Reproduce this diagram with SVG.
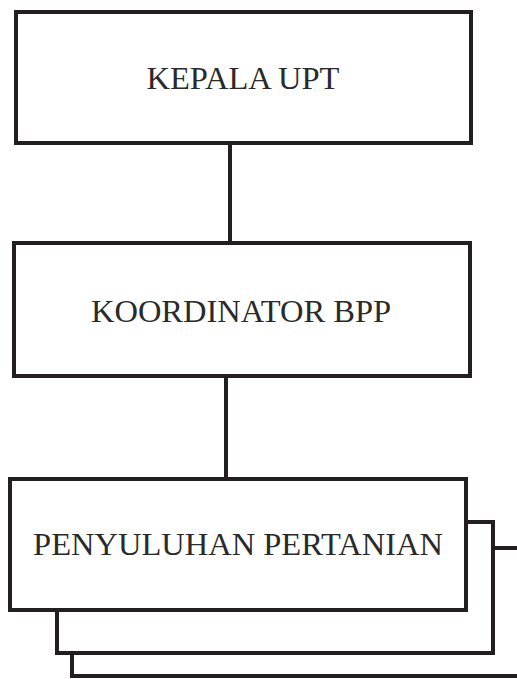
<svg xmlns="http://www.w3.org/2000/svg" width="517" height="679" viewBox="0 0 517 679">
<style>
.box{fill:#fff;stroke:#231f20;stroke-width:4}
.lbl{font-family:"Liberation Serif",serif;font-size:32.5px;fill:#2a2a2a;text-anchor:middle}
.conn{stroke:#231f20;stroke-width:4;fill:none}
</style>
<rect width="517" height="679" fill="#fff"/>
<g id="connectors">
<line class="conn" x1="230" y1="143" x2="230" y2="243"/>
<line class="conn" x1="226" y1="376" x2="226" y2="479"/>
</g>
<g id="kepala-upt">
<rect class="box" x="16" y="12" width="455" height="131"/>
<text class="lbl" x="243" y="89">KEPALA UPT</text>
</g>
<g id="koordinator-bpp">
<rect class="box" x="14" y="243" width="456" height="133"/>
<text class="lbl" x="241" y="322">KOORDINATOR BPP</text>
</g>
<g id="penyuluhan-pertanian">
<rect class="box" x="72" y="548" width="470" height="128"/>
<rect class="box" x="57" y="522" width="436" height="131"/>
<rect class="box" x="10" y="479" width="456" height="131"/>
<text class="lbl" x="238" y="555">PENYULUHAN PERTANIAN</text>
</g>
</svg>
